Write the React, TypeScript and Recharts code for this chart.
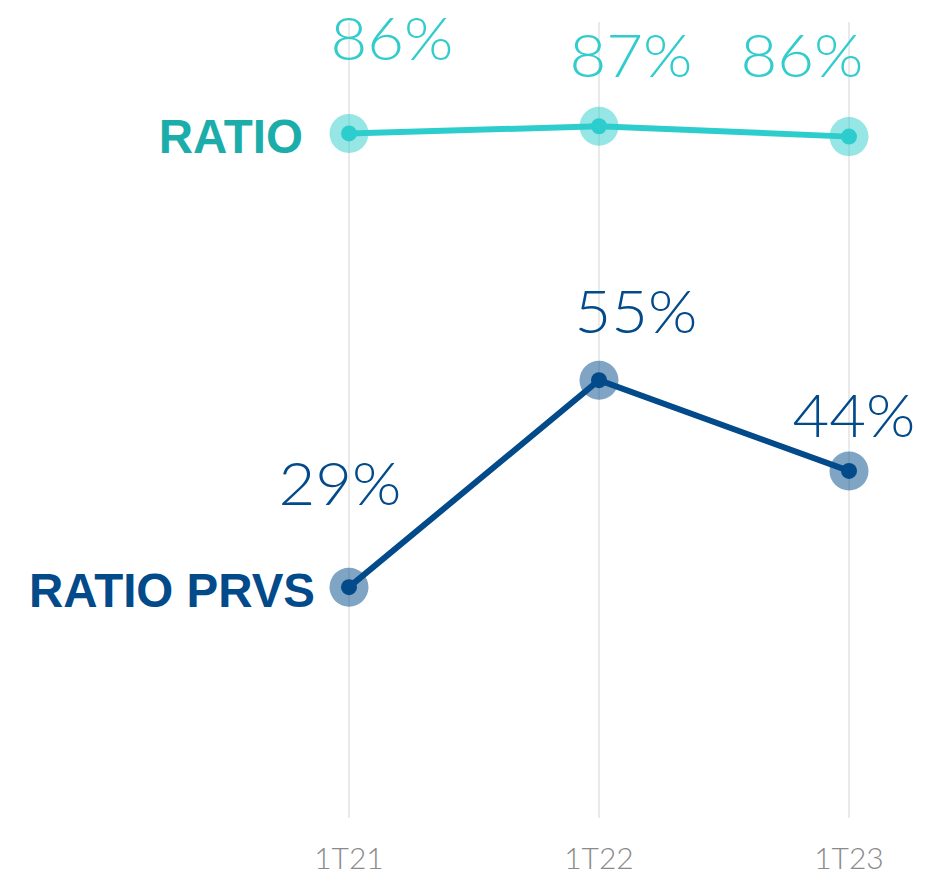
import React from 'react';
import { LineChart, Line, XAxis, YAxis, CartesianGrid } from 'recharts';

const categories = ['1T21', '1T22', '1T23'];
const ratioValues = [86.0, 86.9, 85.6];
const prvsValues = [29.0, 55.0, 43.6];
const seriesNames = ['RATIO', 'RATIO PRVS'];

const data = categories.map((c, i) => ({
  period: c,
  ratio: ratioValues[i],
  prvs: prvsValues[i],
}));

const TEAL_LINE = '#2ECDCD';
const TEAL_TEXT = '#1AADAA';
const NAVY = '#024A8A';

// per-point label offsets (relative to the point), as in the original layout
const labelOffsets: Record<string, Array<[number, number]>> = {
  ratio: [[43, -73], [32, -49], [-47, -60]],
  prvs: [[-9, -82], [37, -47], [5, -34]],
};

const makeDot = (color: string) => (props: any) => {
  const { cx, cy, index } = props;
  if (cx == null || cy == null) return null;
  return (
    <g key={`dot-${index}`}>
      <circle cx={cx} cy={cy} r={19.5} fill={color} fillOpacity={0.5} />
      <circle cx={cx} cy={cy} r={8} fill={color} />
    </g>
  );
};

const makeLabel =
  (key: string, color: string, name: string, nameColor: string, nameDx: number) =>
  (props: any) => {
    const { x, y, value, index } = props;
    const [dx, dy] = labelOffsets[key][index] || [0, -40];
    return (
      <g key={`lbl-${key}-${index}`}>
        <text
          x={x + dx}
          y={y + dy}
          textAnchor="middle"
          fill={color}
          textLength={123}
          lengthAdjust="spacingAndGlyphs"
          style={{ fontFamily: 'Lato, sans-serif', fontWeight: 300, fontSize: 60 }}
        >
          {`${Math.round(value)}%`}
        </text>
        {index === 0 && (
          <text
            x={x + nameDx}
            y={y + 20}
            textAnchor="end"
            fill={nameColor}
            style={{ fontFamily: '"Liberation Sans", Arial, sans-serif', fontWeight: 700, fontSize: 47.5 }}
          >
            {name}
          </text>
        )}
      </g>
    );
  };

const PeriodTick = (props: any) => {
  const { x, y, payload } = props;
  return (
    <text
      x={x}
      y={y}
      dy={43}
      textAnchor="middle"
      fill="#8A8A8A"
      style={{ fontFamily: 'Lato, sans-serif', fontWeight: 300, fontSize: 30 }}
    >
      {payload.value}
    </text>
  );
};

export default function App() {
  return (
    <div style={{ width: 918, height: 869, background: '#fff' }}>
      <LineChart
        width={918}
        height={869}
        data={data}
        margin={{ top: 14, right: 77, left: 341, bottom: 0 }}
      >
        <CartesianGrid vertical horizontal={false} stroke="#D4D4D4" strokeWidth={1} />
        <XAxis
          dataKey="period"
          axisLine={false}
          tickLine={false}
          height={59}
          interval={0}
          tick={<PeriodTick />}
        />
        <YAxis hide domain={[0, 100]} />
        <Line
          dataKey="ratio"
          stroke={TEAL_LINE}
          strokeWidth={6}
          dot={makeDot(TEAL_LINE)}
          activeDot={false}
          label={makeLabel('ratio', '#33CCCC', seriesNames[0], TEAL_TEXT, -46)}
          isAnimationActive={false}
        />
        <Line
          dataKey="prvs"
          stroke={NAVY}
          strokeWidth={6}
          dot={makeDot(NAVY)}
          activeDot={false}
          label={makeLabel('prvs', NAVY, seriesNames[1], NAVY, -34)}
          isAnimationActive={false}
        />
      </LineChart>
    </div>
  );
}
